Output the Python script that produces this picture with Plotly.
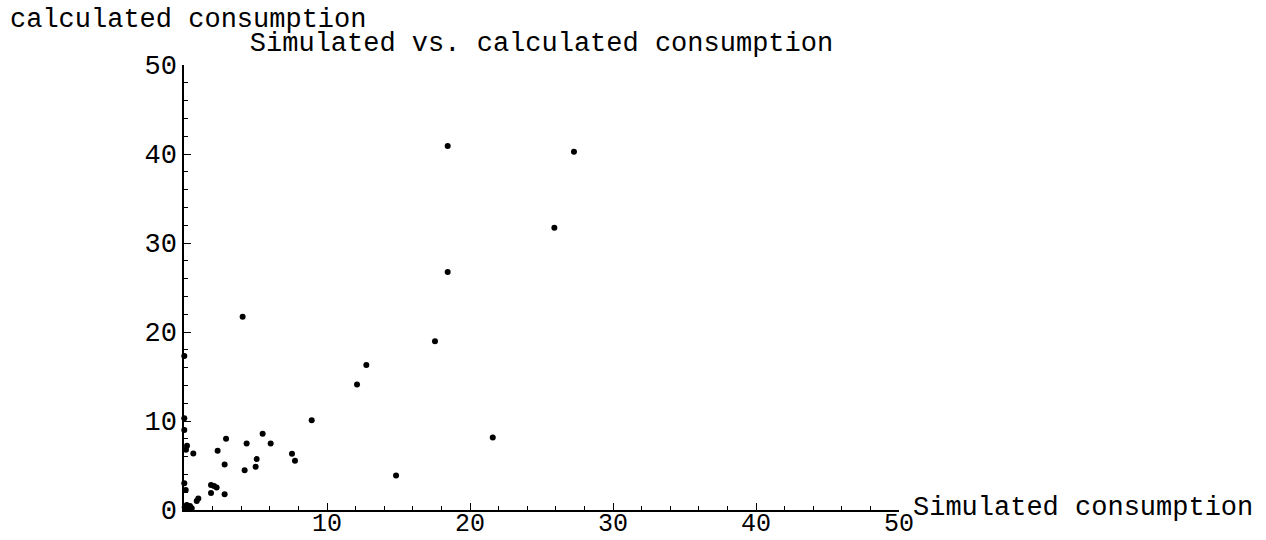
import plotly.graph_objects as go

# Simulated vs. calculated consumption, one dot per case
simulated = [18.44, 27.27, 25.9, 18.44, 4.1, 17.55, 0.02, 12.75, 12.1, 8.93,
             0.02, 0.02, 21.59, 5.5, 6.06, 2.94, 4.38, 0.21, 2.35, 0.14,
             0.65, 7.55, 7.76, 5.08, 5.01, 4.24, 2.84, 14.83, 0.02, 1.89,
             2.1, 2.28, 0.12, 1.89, 2.84, 1.0, 0.89, 0.19, 0.42, 0.3,
             0.54, 0.12, 0.05]
calculated = [40.9, 40.26, 31.7, 26.75, 21.7, 18.96, 17.3, 16.29, 14.1, 10.08,
              10.3, 9.0, 8.16, 8.58, 7.48, 8.0, 7.48, 7.22, 6.66, 6.77,
              6.35, 6.32, 5.53, 5.72, 4.85, 4.48, 5.11, 3.87, 3.0, 2.82,
              2.7, 2.52, 2.26, 1.92, 1.77, 1.28, 1.02, 0.56, 0.45, 0.19,
              0.19, 0.1, 0.3]

# the origin is labelled once, on the vertical axis only
x_tick_vals = [10, 20, 30, 40, 50]
x_tick_text = ["10", "20", "30", "40", "50"]
y_tick_vals = [0, 10, 20, 30, 40, 50]
y_tick_text = ["0", "10", "20", "30", "40", "50"]

FONT = "Courier New, Liberation Mono, monospace"
FS = 27
PLOT_W = 715

fig = go.Figure()
fig.add_trace(go.Scatter(
    x=simulated, y=calculated, mode="markers",
    marker=dict(color="black", size=6),
    cliponaxis=False, showlegend=False,
))

axis_common = dict(
    range=[0, 50], showgrid=False, zeroline=False, automargin=False,
    showline=True, linecolor="black", linewidth=1.5,
    ticks="inside", ticklen=7, tickwidth=1.2, tickcolor="black",
    minor=dict(ticks="inside", ticklen=4, tickwidth=1, tickcolor="black", dtick=2),
)

fig.update_layout(
    width=1266, height=540,
    margin=dict(l=184, r=367, t=65, b=30),
    paper_bgcolor="white", plot_bgcolor="white",
    xaxis=dict(**axis_common, tickvals=x_tick_vals, ticktext=x_tick_text,
               tickfont=dict(family=FONT, size=25, color="black"),
               ticklabelstandoff=-11),
    yaxis=dict(**axis_common, tickvals=y_tick_vals, ticktext=y_tick_text,
               tickfont=dict(family=FONT, size=FS, color="black"),
               ticklabelstandoff=0),
    font=dict(family=FONT, size=FS, color="black"),
    title=dict(text="Simulated vs. calculated consumption", x=0.5,
               xref="paper", y=1 - 42 / 540, yref="container", yanchor="middle",
               font=dict(family=FONT, size=FS, color="black")),
    annotations=[
        dict(text="calculated consumption", xref="paper", yref="paper",
             x=-176 / PLOT_W, y=1.0, xanchor="left", yanchor="middle",
             yshift=45, showarrow=False,
             font=dict(family=FONT, size=FS, color="black")),
        dict(text="Simulated consumption", xref="paper", yref="paper",
             x=1.0, y=0.0, xanchor="left", yanchor="middle",
             xshift=12, yshift=2, showarrow=False,
             font=dict(family=FONT, size=FS, color="black")),
    ],
)

fig.write_html("out.html")
